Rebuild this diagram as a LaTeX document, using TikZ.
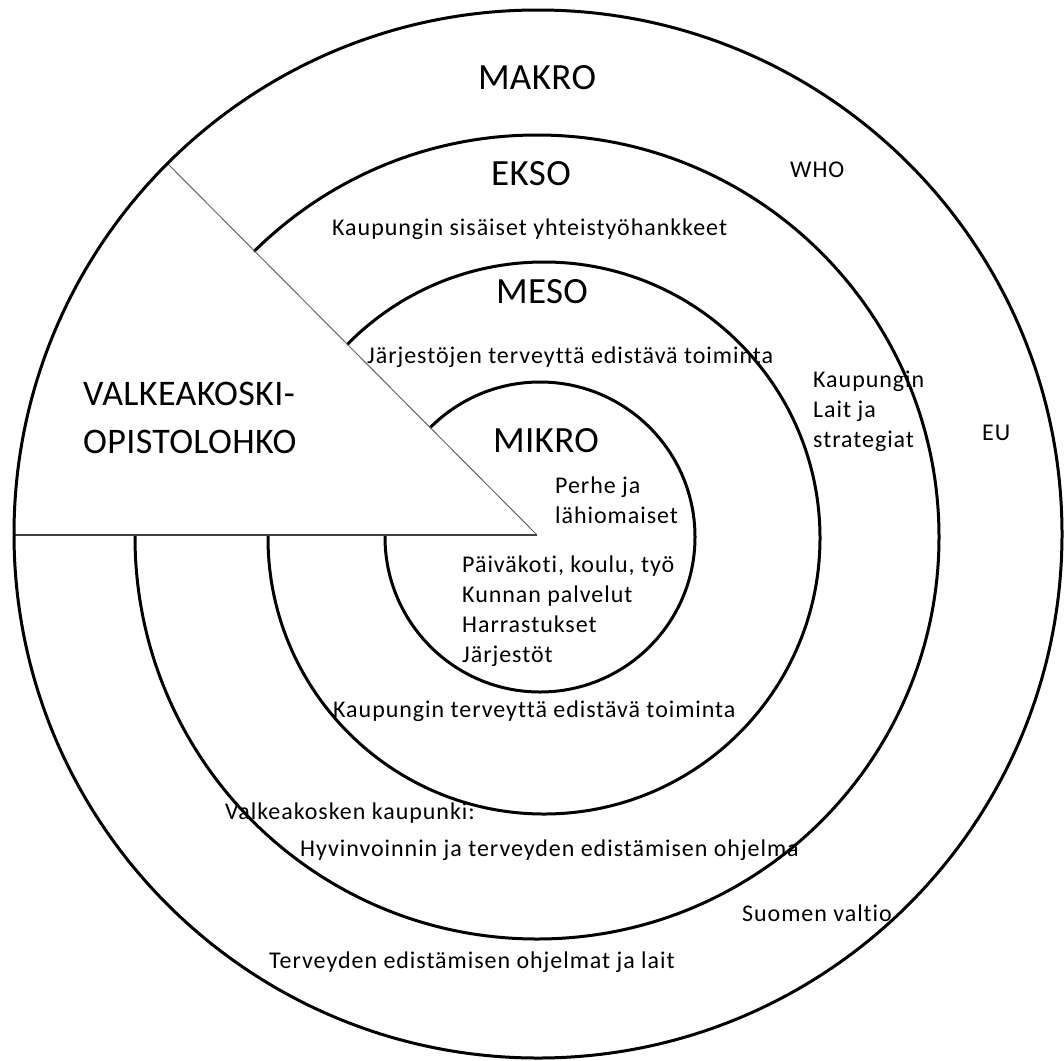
\documentclass[tikz,border=0pt]{standalone}
\usepackage{fontspec}
\setmainfont{Carlito}
\newfontfamily\smallfam{Carlito}[LetterSpace=4,Ligatures=NoCommon]
\newfontfamily\bigfam{Carlito}[LetterSpace=1,Ligatures=NoCommon]
\begin{document}
\begin{tikzpicture}[x=1pt,y=-1pt,
  ring/.style={line width=3pt, black},
  big/.style={font=\bigfam\fontsize{37}{44}\selectfont, inner sep=0pt},
  small/.style={font=\smallfam\fontsize{24}{30}\selectfont, inner sep=0pt, align=left},
  wedgeline/.style={line width=1pt, black!60},
  baseline2/.style={line width=1.5pt, black!75}]
\useasboundingbox (0,0) rectangle (1064,1060);
\fill[white] (0,0) rectangle (1064,1060);
% inner rings
\draw[ring] (540,537) circle[radius=155pt];
\draw[ring] (544,538) circle[radius=276pt];
\draw[ring] (537,537) circle[radius=402pt];
% wedge
\coordinate (c) at (537,535);
\coordinate (wl) at (14,535);
\coordinate (wu) at (167.5,163.5);
\fill[white] (c) -- (0,535) -- (0,-2) -- cycle;
\draw[wedgeline] (c) -- (wu);
\draw[baseline2] (c) -- (wl);
% outer ring
\draw[ring] (538,534) circle[radius=524pt];
% titles
\node[big] (makro) at (537,78) {MAKRO};
\node[big] (ekso) at (531,174) {EKSO};
\node[big] (meso) at (542,292) {MESO};
\node[big] (mikro) at (546,441) {MIKRO};
\node[big, align=left, anchor=west, font=\bigfam\fontsize{36}{48}\selectfont] (valk) at (83,418) {VALKEAKOSKI-\\OPISTOLOHKO};
% texts
\node[small, anchor=west] (who) at (790,170) {WHO};
\node[small, anchor=west] (eu) at (982,433) {EU};
\node[small, anchor=west] (ksis) at (332,229) {Kaupungin sisäiset yhteistyöhankkeet};
\node[small, anchor=west] (jarj) at (367,357) {Järjestöjen terveyttä edistävä toiminta};
\node[small, anchor=west] (klait) at (813,411) {Kaupungin\\Lait ja\\strategiat};
\node[small, anchor=west] (perhe) at (555,500) {Perhe ja\\lähiomaiset};
\node[small, anchor=west] (paiva) at (462,611) {Päiväkoti, koulu, työ\\Kunnan palvelut\\Harrastukset\\Järjestöt};
\node[small, anchor=west] (kter) at (333,711) {Kaupungin terveyttä edistävä toiminta};
\node[small, anchor=west] (vkk) at (225,813) {Valkeakosken kaupunki:};
\node[small, anchor=west] (hyv) at (300,850) {Hyvinvoinnin ja terveyden edistämisen ohjelma};
\node[small, anchor=west] (suomi) at (742,913) {Suomen valtio};
\node[small, anchor=west] (ted) at (269,962) {Terveyden edistämisen ohjelmat ja lait};
\end{tikzpicture}
\end{document}
